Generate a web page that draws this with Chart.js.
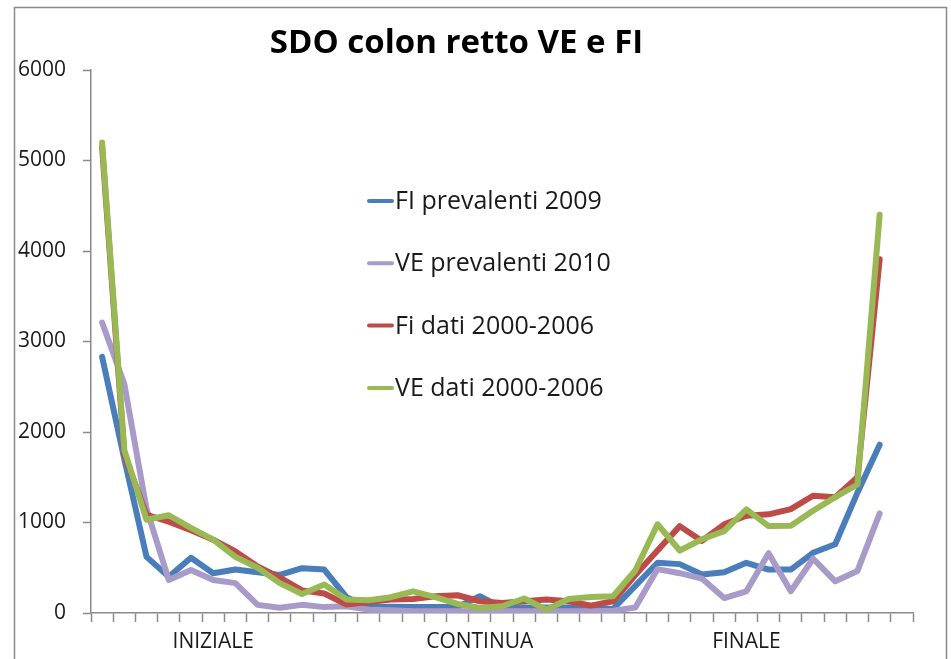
<!DOCTYPE html>
<html>
<head>
<meta charset="utf-8">
<script src="https://cdn.jsdelivr.net/npm/chart.js@4.4.1/dist/chart.umd.min.js"></script>
<style>
  html, body { margin: 0; padding: 0; background: #fff; }
  #wrap { width: 951px; height: 659px; position: relative; }
</style>
</head>
<body>
<div id="wrap"><canvas id="chart" width="951" height="659"></canvas></div>
<script>
// ── Data ─────────────────────────────────────────────────────────────
// 37 categories on the x axis, only three of them carry a label
var categories = [
  '', '', '', '', '', 'INIZIALE', '', '', '', '', '', '',
  '', '', '', '', '', 'CONTINUA', '', '', '', '', '', '',
  '', '', '', '', '', 'FINALE', '', '', '', '', '', '',
  ''
];

var fiPrevalenti2009 = [
  2830, 1700, 620, 400, 610, 440, 480, 450, 420, 495, 480, 175,
  65, 70, 67, 67, 67, 185, 60, 60, 60, 60, 55, 44,
  300, 555, 540, 425, 450, 555, 480, 480, 665, 760, 1330, 1860,
  null
];

var vePrevalenti2010 = [
  3210, 2530, 1150, 365, 475, 365, 330, 90, 58, 90, 65, 75,
  37, 30, 20, 18, 18, 18, 18, 18, 18, 18, 18, 26,
  60, 485, 440, 380, 165, 240, 660, 240, 600, 350, 465, 1100,
  null
];

var fiDati20002006 = [
  5150, 1750, 1085, 1010, 915, 810, 680, 515, 390, 250, 215, 93,
  120, 148, 155, 185, 196, 130, 111, 130, 148, 130, 81, 130,
  420, 690, 960, 796, 980, 1075, 1090, 1148, 1296, 1278, 1500, 3910,
  null
];

var veDati20002006 = [
  5200, 1800, 1030, 1080, 940, 810, 620, 500, 330, 210, 315, 150,
  140, 175, 240, 175, 100, 55, 75, 160, 37, 155, 178, 185,
  470, 980, 690, 815, 905, 1145, 960, 965, 1130, 1280, 1420, 4400,
  null
];

var seriesNames = ['FI prevalenti 2009', 'VE prevalenti 2010', 'Fi dati 2000-2006', 'VE dati 2000-2006'];
var seriesColors = ['#4A7EBB', '#A99BC9', '#BE4B48', '#98B954'];
var yTicks = [0, 1000, 2000, 3000, 4000, 5000, 6000];

var FONT = '"Open Sans", Lato, sans-serif';

// ── Plugins: white page with grey frame, legend inside the plot ─────
var framePlugin = {
  id: 'frame',
  beforeDraw: function(chart) {
    var ctx = chart.ctx;
    ctx.save();
    ctx.fillStyle = '#ffffff';
    ctx.fillRect(0, 0, chart.width, chart.height);
    ctx.strokeStyle = '#8a8a8a';
    ctx.lineWidth = 1.5;
    ctx.strokeRect(14.5, 7.5, 932, 700);
    ctx.restore();
  }
};

var insideLegend = {
  id: 'insideLegend',
  afterDatasetsDraw: function(chart) {
    var ctx = chart.ctx;
    ctx.save();
    chart.data.datasets.forEach(function(ds, i) {
      var y = 201 + i * 62.3;
      ctx.strokeStyle = ds.borderColor;
      ctx.lineWidth = 4;
      ctx.lineCap = 'round';
      ctx.beginPath();
      ctx.moveTo(369, y);
      ctx.lineTo(392, y);
      ctx.stroke();
      ctx.fillStyle = '#1a1a1a';
      ctx.font = '25px ' + FONT;
      ctx.textBaseline = 'middle';
      ctx.textAlign = 'left';
      ctx.fillText(ds.label, 395, y + 1);
    });
    ctx.restore();
  }
};

// ── Datasets (green drawn on top, as in the original) ────────────────
var seriesData = [fiPrevalenti2009, vePrevalenti2010, fiDati20002006, veDati20002006];
var drawOrder = [3, 2, 1, 0];
var datasets = seriesData.map(function(values, i) {
  return {
    label: seriesNames[i],
    data: values,
    borderColor: seriesColors[i],
    backgroundColor: seriesColors[i],
    borderWidth: 6,
    pointRadius: 0,
    tension: 0,
    fill: false,
    borderJoinStyle: 'round',
    borderCapStyle: 'round',
    order: drawOrder[i]
  };
});

new Chart(document.getElementById('chart').getContext('2d'), {
  type: 'line',
  data: { labels: categories, datasets: datasets },
  plugins: [framePlugin, insideLegend],
  options: {
    responsive: false,
    animation: false,
    devicePixelRatio: 1,
    layout: { padding: { left: 0, right: 38, top: 0, bottom: 0 } },
    plugins: {
      legend: { display: false },
      tooltip: { enabled: false },
      title: {
        display: true,
        text: 'SDO colon retto VE e FI',
        color: '#000',
        font: { family: FONT, size: 33, weight: 'bold', lineHeight: 1.2 },
        padding: { top: 24, bottom: 6.4 }
      }
    },
    scales: {
      x: {
        type: 'category',
        offset: true,
        grid: {
          offset: true,
          drawOnChartArea: false,
          drawTicks: true,
          tickLength: 9,
          tickColor: '#8a8a8a',
          tickWidth: 1.5
        },
        border: { color: '#8a8a8a', width: 1.5 },
        ticks: {
          autoSkip: false,
          maxRotation: 0,
          minRotation: 0,
          padding: 7,
          color: '#1a1a1a',
          font: { family: FONT, size: 21 }
        },
        afterFit: function(scale) { scale.height = 46; }
      },
      y: {
        min: 0,
        max: 6000,
        afterBuildTicks: function(scale) {
          scale.ticks = yTicks.map(function(v) { return { value: v }; });
        },
        grid: {
          drawOnChartArea: false,
          drawTicks: true,
          tickLength: 8,
          tickColor: '#8a8a8a',
          tickWidth: 1.5
        },
        border: { color: '#8a8a8a', width: 1.5 },
        ticks: {
          padding: 17,
          color: '#1a1a1a',
          font: { family: FONT, size: 21 },
          callback: function(value) { return String(value); }
        },
        afterFit: function(scale) { scale.width = 91; }
      }
    }
  }
});
</script>
</body>
</html>
